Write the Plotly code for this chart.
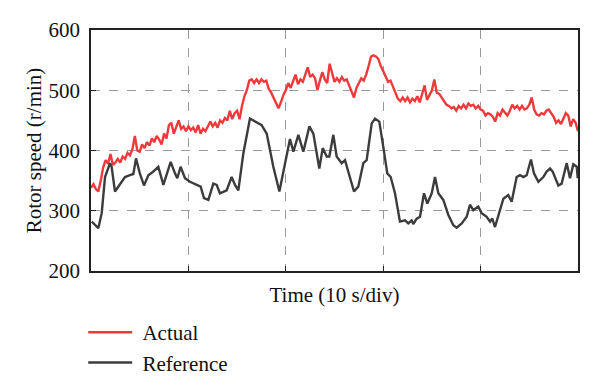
import plotly.graph_objects as go

# Reference (commanded) rotor speed, r/min
ref_t = [0.07, 0.75, 1.10, 1.44, 1.95, 2.12, 2.46, 2.98, 3.49, 4.00, 4.35, 4.62, 5.03, 5.44, 5.89,
         6.40, 6.91, 7.43, 7.84, 8.18, 8.62, 8.86, 9.20, 9.65, 10.16, 10.85, 11.26, 11.60, 12.05,
         12.56, 12.90, 13.24, 13.93, 14.44, 14.78, 15.13, 15.64, 16.32, 16.84, 17.52, 18.04, 18.72,
         19.34, 19.92, 20.43, 20.78, 21.29, 21.80, 22.42, 22.83, 23.44, 23.79, 24.20, 24.47, 24.88,
         25.22, 25.74, 26.08, 26.59, 27.00, 27.44, 27.96, 28.30, 28.82, 29.16, 29.60, 30.01, 30.42,
         30.77, 31.21, 31.72, 32.24, 32.58, 32.92, 33.09, 33.44, 33.78, 34.19, 34.53, 34.98, 35.32,
         35.66, 36.17, 36.69, 37.20, 37.54, 38.06, 38.57, 38.91, 39.25, 39.76, 40.11, 40.62, 40.97,
         41.20, 41.48, 41.99, 42.34, 42.84, 43.19, 43.70, 44.05, 44.39, 44.73, 45.17, 45.48, 45.93,
         46.44, 46.78, 47.13, 47.40, 47.64, 47.98, 48.32, 48.84, 49.18, 49.52, 49.87, 49.97]
ref_v = [282, 271, 296, 356, 379, 373, 332, 345, 356, 359, 361, 387, 361, 342, 359,
         365, 373, 343, 362, 381, 362, 354, 373, 354, 348, 343, 340, 321, 318,
         345, 343, 329, 334, 356, 343, 334, 395, 453, 448, 442, 428, 373,
         332, 379, 419, 398, 426, 398, 440, 428, 370, 404, 390, 390, 426,
         390, 379, 384, 356, 332, 340, 379, 384, 445, 453, 448, 406, 362,
         356, 329, 282, 284, 279, 284, 278, 287, 290, 329, 312, 329, 356,
         329, 318, 293, 276, 272, 279, 290, 310, 301, 307, 296, 290, 282,
         287, 273, 301, 320, 326, 315, 356, 359, 356, 359, 385, 362, 348,
         356, 365, 370, 365, 356, 342, 345, 379, 354, 377, 373, 354]

# Actual (measured) rotor speed, r/min, sampled every 0.25 s from 0 to 50 s
act_dt = 0.25
act_v = [338, 344, 336, 332, 350, 372, 384, 378, 394, 376, 380, 386, 380, 390, 386, 396,
         392, 402, 424, 400, 398, 410, 404, 414, 408, 420, 414, 424, 418, 410, 428, 420,
         442, 446, 428, 440, 450, 436, 440, 432, 440, 434, 438, 430, 442, 428, 436, 432,
         440, 448, 440, 446, 438, 450, 446, 454, 450, 466, 452, 462, 466, 452, 474, 490,
         500, 516, 518, 512, 518, 512, 518, 514, 516, 502, 496, 488, 480, 470, 480, 492,
         500, 512, 504, 516, 526, 510, 518, 514, 526, 538, 522, 526, 520, 500, 516, 530,
         518, 512, 544, 528, 514, 520, 514, 522, 516, 518, 508, 500, 488, 504, 512, 520,
         516, 526, 540, 556, 558, 556, 552, 540, 532, 524, 514, 516, 506, 498, 486, 482,
         488, 482, 488, 480, 486, 482, 490, 480, 496, 508, 484, 492, 500, 518, 496, 494,
         488, 482, 476, 474, 470, 472, 466, 474, 470, 476, 470, 478, 474, 476, 470, 474,
         468, 466, 458, 462, 460, 456, 448, 462, 458, 468, 462, 458, 466, 476, 470, 474,
         468, 474, 468, 470, 476, 488, 468, 460, 458, 462, 460, 466, 468, 462, 456, 446,
         450, 444, 452, 462, 458, 440, 452, 446, 432]
act_t = [i * act_dt for i in range(len(act_v))]

x_ticks = [0, 10, 20, 30, 40, 50]
y_ticks = [200, 300, 400, 500, 600]

FONT = "Liberation Serif"
FS = 21
NB = "\u00a0"

fig = go.Figure()
fig.add_trace(go.Scatter(x=act_t, y=act_v, mode="lines", name=NB + "Actual",
                         line=dict(color="#EF3A3C", width=2.4)))
fig.add_trace(go.Scatter(x=ref_t, y=ref_v, mode="lines", name=NB + "Reference",
                         line=dict(color="#3C3C3C", width=2.4)))

# the page body has an 8px default margin, so the figure is 8px smaller
fig.update_layout(
    width=592, height=383,
    margin=dict(l=83, r=22, t=22, b=120, autoexpand=False),
    paper_bgcolor="white", plot_bgcolor="white",
    font=dict(family=FONT, size=FS, color="#111"),
    legend=dict(x=-0.016, y=0.206, xref="paper", yref="container",
                xanchor="left", yanchor="top",
                orientation="v", font=dict(size=FS), itemwidth=44,
                bgcolor="rgba(0,0,0,0)", tracegroupgap=0),
    xaxis=dict(range=[0, 50], tickvals=x_ticks, showticklabels=False,
               ticks="inside", ticklen=5, tickcolor="#222", automargin=False,
               showgrid=True, gridcolor="#9a9a9a", griddash="dash", gridwidth=1,
               showline=True, linecolor="#222", linewidth=1.5, mirror=True,
               zeroline=False,
               title=dict(text="Time (10 s/div)", font=dict(size=FS), standoff=16)),
    yaxis=dict(range=[200, 600], tickvals=y_ticks, automargin=False,
               ticks="inside", ticklen=5, tickcolor="#222", ticklabelstandoff=5,
               showgrid=True, gridcolor="#9a9a9a", griddash="dash", gridwidth=1,
               showline=True, linecolor="#222", linewidth=1.5, mirror=True,
               zeroline=False, tickfont=dict(size=FS),
               title=dict(text="Rotor speed (r/min)", font=dict(size=FS), standoff=1)),
)

fig.write_html("out.html")
